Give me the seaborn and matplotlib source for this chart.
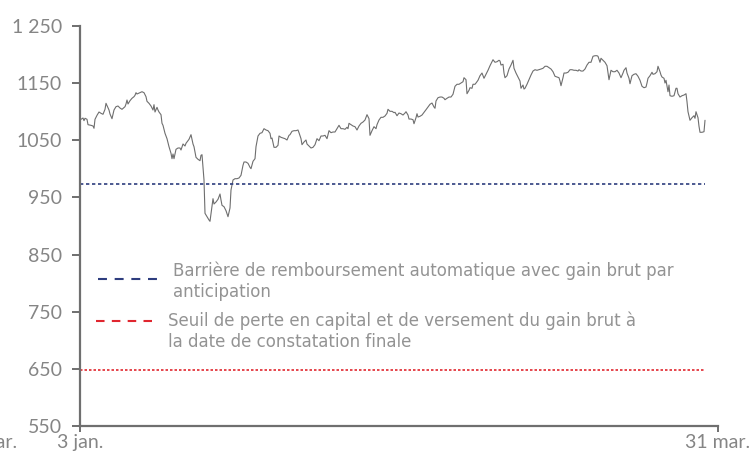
import matplotlib
matplotlib.use("Agg")
import matplotlib.pyplot as plt
import seaborn as sns
import pandas as pd

# ---- data -------------------------------------------------------------
# day offsets (axis units, 3 jan. = 0, 31 mar. = 638) and index levels
jours = [
    1, 3, 4, 5, 7, 8, 11, 13, 14, 15,
    17, 19, 21, 23, 25, 26, 29, 30, 32, 34,
    36, 38, 40, 42, 45, 46, 47, 48, 50, 52,
    54, 55, 56, 57, 60, 62, 64, 66, 67, 69,
    71, 73, 74, 75, 77, 78, 79, 81, 82, 83,
    85, 87, 89, 91, 92, 93, 94, 96, 98, 100,
    101, 103, 105,
    106, 109, 111, 113, 114, 116, 118, 120, 121, 122,
    124, 125, 127, 129, 130, 132, 133, 134, 136, 138,
    140, 141, 142, 144, 146, 148, 150, 151, 153, 155,
    157, 159, 161, 163, 164, 166, 168, 170, 171, 173,
    175, 176, 178, 180, 182, 184, 186, 188, 190, 191,
    192, 194, 196, 198, 199, 201, 203, 205, 207, 209,
    210,
    212, 214, 216, 218, 219, 221, 222, 224, 226, 227,
    229, 231, 233, 235, 237, 239, 241, 243, 245, 247,
    249, 251, 253, 255, 257, 259, 261, 263, 265, 267,
    268, 269, 271, 273, 275, 277, 279, 281, 283, 285,
    286, 287, 289, 290, 292, 294, 296, 297, 299, 301,
    303, 305, 307, 308, 310, 312, 314,
    315, 317, 319, 321, 323, 325, 326, 328, 329, 331,
    333, 334, 336, 337, 338, 340, 342, 344, 346, 348,
    350, 352, 354, 355, 356, 358, 360, 362, 364, 365,
    367, 369, 371, 373, 375, 377, 379, 381, 383, 384,
    386, 387, 389, 390, 392, 393, 395, 396, 398, 400,
    402, 404, 406, 408, 410, 412, 413, 415, 417, 419,
    420, 421, 423, 424, 425, 427, 429, 431, 433, 434,
    436, 438, 440, 441, 443, 444, 445, 447, 449, 451,
    453, 455, 457, 459, 461, 463, 465, 467, 469, 471,
    473, 475, 477, 479, 480, 481, 483, 484, 486, 488,
    490, 492, 494, 496, 498, 499, 501, 503, 505, 507,
    509, 511, 513, 515, 517, 518, 520, 521, 523, 525,
    527, 529, 531, 533, 535, 537, 539, 541, 543, 544,
    546, 547, 549, 550, 552, 554, 556, 558, 560, 562,
    564, 566, 567, 568, 570, 572, 573, 575, 577, 578,
    580, 581, 582, 584, 585, 586, 588, 589, 590, 592,
    594, 596, 597, 598, 600, 602, 604, 606, 607, 608,
    610, 612, 614, 615, 616, 618, 619, 620, 622, 624,
    625,
]
niveaux = [
    1086.7, 1089, 1084.3, 1088.5, 1086.7, 1077.3, 1076.2, 1075, 1071, 1086.7,
    1093.7, 1099.5, 1097.2, 1095.5, 1104.2, 1114.7, 1103, 1096, 1087.8, 1103,
    1108.8, 1110, 1106.5, 1104.2, 1108.8, 1113.5, 1120.5, 1113.5, 1119.3, 1123.5,
    1126.3, 1128.7, 1133.3, 1131, 1133.3, 1135, 1133.3, 1126.3, 1118.2, 1114.7,
    1110, 1103, 1112.3, 1099.5, 1107.7, 1103, 1099.5, 1094.8, 1079.7, 1076.2,
    1062.2, 1052.8, 1038.8, 1027.2, 1017.8, 1026, 1017.8, 1034.2, 1036.5, 1036.5,
    1033, 1043.5, 1040,
    1044.7, 1051.7, 1059.8, 1043.5, 1038.8, 1020.2, 1016.7, 1014.3, 1023.7, 1024.8,
    980.5, 922.2, 916.3, 910.5, 908.2, 933.8, 947.8, 938.5, 942, 946.7,
    956, 945.5, 936.2, 933.8, 926.8, 916.3, 931.5, 963, 980.5, 982.8,
    982.8, 984, 988.7, 1006.2, 1012, 1012, 1009.7, 1002.7, 1000.3, 1013.2,
    1017.8, 1038.8, 1057.5, 1062.2, 1063.3, 1070.3, 1068, 1066.8, 1062.2, 1052.8,
    1054, 1037.7, 1037.7, 1041.2, 1057.5, 1055.2, 1054, 1052.8, 1050.5, 1058.7,
    1059.8,
    1065.7, 1066.8, 1066.8, 1068, 1063.3, 1052.8, 1042.3, 1047, 1050.5, 1043.5,
    1040, 1036.5, 1037.7, 1042.3, 1052.8, 1049.3, 1057.5, 1057.5, 1058.7, 1052.8,
    1066.8, 1063.3, 1064.5, 1064.5, 1070.3, 1076.2, 1070.3, 1070.3, 1069.2, 1072.7,
    1070.3, 1079.7, 1077.3, 1075, 1073.8, 1068, 1075, 1079.7, 1082, 1085.5,
    1090.2, 1094.8, 1087.8, 1058.7, 1066.8, 1073.8, 1070.3, 1077.3, 1085.5, 1090.2,
    1090.2, 1092.5, 1097.2, 1104.2, 1100.7, 1100.7, 1098.3,
    1099, 1093, 1097.7, 1096.5, 1094.2, 1097.7, 1100, 1094.2, 1087.2, 1087.2,
    1086, 1079, 1089.5, 1096.5, 1090.7, 1092, 1094.2, 1099, 1103.5, 1108.2,
    1113, 1115.2, 1108.2, 1106, 1118.7, 1124.5, 1125.7, 1125.7, 1123.5, 1121,
    1123.5, 1125.7, 1125.7, 1130.5, 1144.5, 1148, 1148, 1150.2, 1152.5, 1159.5,
    1156, 1131.5, 1137.5, 1142, 1141, 1148, 1148, 1150.2, 1155, 1163,
    1167.7, 1158.5, 1165.5, 1172.5, 1180.5, 1187.5, 1191, 1186.5, 1187.5, 1190,
    1188.7, 1181.7, 1183, 1167.7, 1159.5, 1163, 1174.7, 1181.7, 1190, 1176,
    1167.7, 1160.7, 1153.7, 1141, 1146.7, 1139.7, 1141, 1148, 1156, 1164.2,
    1171.2, 1173.5, 1172.5, 1173.5, 1174.7, 1176, 1179.5, 1179.5, 1177, 1174.7,
    1170, 1162, 1160.7, 1159.5, 1153.7, 1145.5, 1159.5, 1167.7, 1167.7, 1169,
    1173.5, 1173.5, 1172.5, 1172.5, 1171.2, 1173.5, 1171.2, 1171.2, 1174.7, 1181.7,
    1186.5, 1186.5, 1197, 1198, 1198, 1197, 1186.5, 1193.5, 1190, 1186.5,
    1180.5, 1156, 1172.5, 1170, 1170, 1172.5, 1167.7, 1159.5, 1167.7, 1172.5,
    1177, 1167.7, 1158.5, 1149, 1163, 1165.5, 1166.5, 1162, 1155, 1144.5,
    1142, 1143.2, 1150.2, 1158.5, 1163, 1169, 1165.5, 1166.5, 1170, 1179.5,
    1170, 1164.2, 1160.7, 1158.5, 1150.2, 1155, 1135, 1146.7, 1128, 1127,
    1128, 1141, 1141, 1131.5, 1125.7, 1128, 1129.2, 1131.5, 1117.5, 1100,
    1085, 1089.5, 1093, 1088.5, 1100, 1089.5, 1074.5, 1064, 1064, 1065,
    1085,
]
assert len(jours) == len(niveaux), (len(jours), len(niveaux))

barriere_remboursement = 973
seuil_perte = 648

y_ticks = [550, 650, 750, 850, 950, 1050, 1150, 1250]
y_labels = ["550", "650", "750", "850", "950", "1050", "1150", "1 250"]
x_ticks = [0, 638]
x_labels = ["3 jan.", "31 mar."]
x_label_coupe = "31 mar."

legende_bleue = "Barrière de remboursement automatique avec gain brut par\nanticipation"
legende_rouge = "Seuil de perte en capital et de versement du gain brut à\nla date de constatation finale"

# ---- style ------------------------------------------------------------
sns.set_style("white")
plt.rcParams["font.family"] = ["Lato", "DejaVu Sans"]

AXIS = "#6f6f6f"
TXT = "#858585"
LEG_TXT = "#939393"
BLUE = "#2e3d7e"
RED = "#e0262f"

fig = plt.figure(figsize=(7.56, 4.59), dpi=100)
ax = fig.add_axes([80 / 756, 33 / 459, 638 / 756, 400 / 459])

df = pd.DataFrame({"jour": jours, "niveau": niveaux})
sns.lineplot(data=df, x="jour", y="niveau", ax=ax, color="#6e6e6e", linewidth=0.8)

x_end = jours[-1]
ax.hlines(barriere_remboursement, 0, x_end, colors=BLUE, linewidth=1.2,
          linestyles=(0, (2.0, 1.6)))
ax.hlines(seuil_perte, 0, x_end, colors=RED, linewidth=1.2,
          linestyles=(0, (1.5, 1.2)))

ax.set_xlim(0, 638)
ax.set_ylim(550, 1250)
ax.set_xlabel("")
ax.set_ylabel("")
ax.set_yticks(y_ticks)
ax.set_yticklabels(y_labels)
ax.set_xticks(x_ticks)
ax.set_xticklabels(x_labels)

for s in ["top", "right"]:
    ax.spines[s].set_visible(False)
for s in ["left", "bottom"]:
    ax.spines[s].set_color(AXIS)
    ax.spines[s].set_linewidth(1.6)

ax.tick_params(axis="y", left=True, direction="out", length=5.5, width=1.4,
               color=AXIS, labelcolor=TXT, labelsize=14, pad=7.5)
ax.tick_params(axis="x", bottom=True, direction="out", length=4.5, width=1.4,
               color=AXIS, labelcolor=TXT, labelsize=14, pad=1)

# clipped label at far left
ax.text(-95, 550 - 7.5 * 1.75, x_label_coupe, ha="center", va="top",
        fontsize=14, color=TXT, clip_on=False)

# legend (drawn manually)
LEG_FONT = ["DejaVu Sans"]
ax.plot([0.028, 0.121], [0.3675, 0.3675], transform=ax.transAxes, color=BLUE,
        linewidth=1.5, linestyle=(0, (4.3, 3.7)), clip_on=False)
ax.text(0.1455, 0.3625, legende_bleue, transform=ax.transAxes, ha="left",
        va="center", fontsize=12, color=LEG_TXT, family=LEG_FONT, linespacing=1.18)
ax.plot([0.025, 0.113], [0.2625, 0.2625], transform=ax.transAxes, color=RED,
        linewidth=1.5, linestyle=(0, (4.1, 3.5)), clip_on=False)
ax.text(0.138, 0.2375, legende_rouge, transform=ax.transAxes, ha="left",
        va="center", fontsize=12, color=LEG_TXT, family=LEG_FONT, linespacing=1.18)

fig.savefig("out.png", dpi=100)
